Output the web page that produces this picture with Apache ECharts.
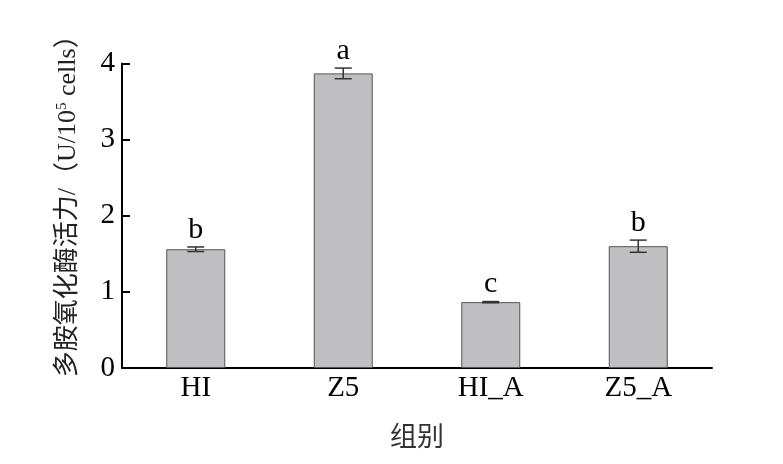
<!DOCTYPE html>
<html><head><meta charset="utf-8">
<script src="https://cdn.jsdelivr.net/npm/echarts@6/dist/echarts.min.js"></script>
<style>html,body{margin:0;padding:0;background:#fff}#c{width:783px;height:464px}</style>
</head><body><div id="c"></div>
<script>
const categories = ['HI', 'Z5', 'HI_A', 'Z5_A'];
const values = [1.56, 3.87, 0.865, 1.60];
const errors = [0.03, 0.07, 0.008, 0.08];
const letters = ['b', 'a', 'c', 'b'];
const yTicks = [0, 1, 2, 3, 4];

const chart = echarts.init(document.getElementById('c'));
const serif = '"Liberation Serif", "Times New Roman", serif';
const cjk = '"Noto Sans CJK SC", sans-serif';

chart.setOption({
  animation: false,
  grid: { left: 122, right: 71, top: 63.5, bottom: 96 },
  xAxis: {
    type: 'category', data: categories,
    axisLine: { lineStyle: { color: '#000', width: 2 } },
    axisTick: { inside: true, length: 8, lineStyle: { color: '#000', width: 2 } },
    axisLabel: { fontFamily: serif, fontSize: 29, color: '#000', margin: 6 },
    name: '组别', nameLocation: 'middle', nameGap: 54,
    nameTextStyle: { fontFamily: cjk, fontSize: 27, color: '#333' }
  },
  yAxis: {
    type: 'value', min: yTicks[0], max: yTicks[yTicks.length - 1], interval: 1,
    axisLine: { show: true, lineStyle: { color: '#000', width: 2 } },
    axisTick: { show: true, inside: true, length: 8, lineStyle: { color: '#000', width: 2 } },
    splitLine: { show: false },
    axisLabel: { fontFamily: serif, fontSize: 29, color: '#000', margin: 7 },
    name: '{t|多胺氧化酶活力/（U/10}{s|5}{t| cells）}',
    nameLocation: 'middle', nameGap: 41, nameRotate: 90,
    nameTextStyle: {
      padding: [0, 0, 0, 32],
      rich: {
        t: { fontFamily: '"Liberation Serif", "Noto Sans CJK SC", serif', fontSize: 26, color: '#222' },
        s: { fontFamily: serif, fontSize: 15, color: '#222', verticalAlign: 'top', padding: [0, 0, 9, 0] }
      }
    }
  },
  series: [
    {
      type: 'bar', data: values, barWidth: '40%',
      itemStyle: { color: '#bfbfc1', borderColor: '#555', borderWidth: 1 }
    },
    {
      type: 'custom',
      data: values.map((v, i) => [i, v, errors[i]]),
      z: 5,
      renderItem: function (params, api) {
        const x = api.value(0), v = api.value(1), e = api.value(2);
        const hi = api.coord([x, v + e]);
        const lo = api.coord([x, v - e]);
        const w = 8.5;
        const st = { stroke: '#333', lineWidth: 1.5 };
        return {
          type: 'group', children: [
            { type: 'line', shape: { x1: hi[0], y1: hi[1], x2: lo[0], y2: lo[1] }, style: st },
            { type: 'line', shape: { x1: hi[0] - w, y1: hi[1], x2: hi[0] + w, y2: hi[1] }, style: st },
            { type: 'line', shape: { x1: lo[0] - w, y1: lo[1], x2: lo[0] + w, y2: lo[1] }, style: st },
            { type: 'text', style: { x: hi[0], y: hi[1] - 2, text: letters[params.dataIndex], textAlign: 'center', textVerticalAlign: 'bottom', font: '30px ' + serif, fill: '#000' } }
          ]
        };
      }
    }
  ]
});
</script></body></html>
